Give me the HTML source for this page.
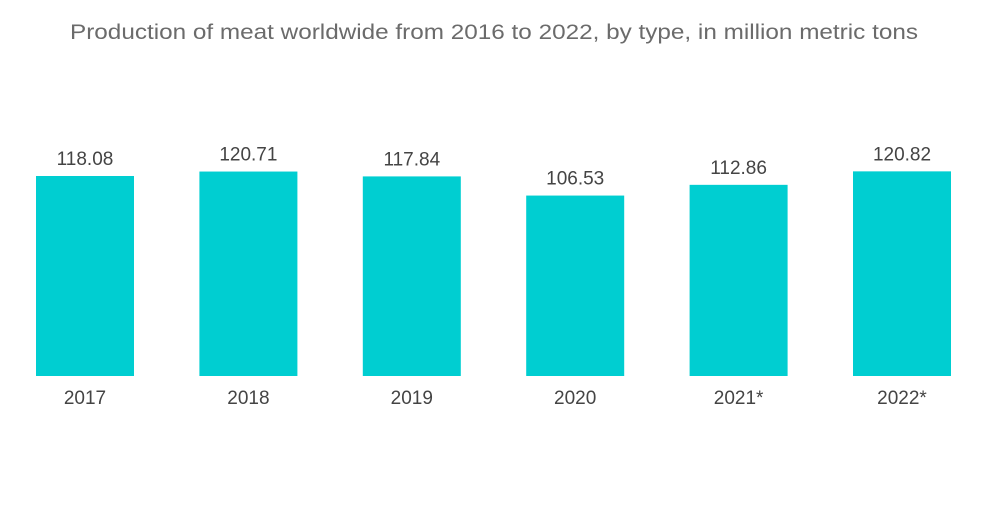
<!DOCTYPE html>
<html><head><meta charset="utf-8"><style>
body{margin:0;background:#fff;width:1000px;height:504px;overflow:hidden;font-family:"Liberation Sans",sans-serif}
</style></head><body>
<svg width="1000" height="504">
<text x="494" y="39" text-anchor="middle" font-size="21" textLength="848" lengthAdjust="spacingAndGlyphs" fill="#6b6b6b">Production of meat worldwide from 2016 to 2022, by type, in million metric tons</text>
<g id="bars"></g>
</svg>
<script>
const categories=["2017","2018","2019","2020","2021*","2022*"];
const values=[118.08,120.71,117.84,106.53,112.86,120.82];
const valueLabels=["118.08","120.71","117.84","106.53","112.86","120.82"];
const baseY=376, scale=200/118.08, x0=36, step=163.4, bw=98;
const yPx=v=>baseY-v*scale;
const xPx=i=>x0+i*step;
const g=document.getElementById('bars');
const ns="http://www.w3.org/2000/svg";
categories.forEach((c,i)=>{
  const r=document.createElementNS(ns,'rect');
  r.setAttribute('x',xPx(i));r.setAttribute('y',yPx(values[i]));
  r.setAttribute('width',bw);r.setAttribute('height',baseY-yPx(values[i]));
  r.setAttribute('fill','#00ced1');
  
  
  g.appendChild(r);
  const t=document.createElementNS(ns,'text');
  t.setAttribute('x',xPx(i)+bw/2);t.setAttribute('y',yPx(values[i])-11);
  t.setAttribute('text-anchor','middle');t.setAttribute('font-size','19');t.setAttribute('fill','#444');
  t.textContent=valueLabels[i];
  
  
  g.appendChild(t);
  const l=document.createElementNS(ns,'text');
  l.setAttribute('x',xPx(i)+bw/2);l.setAttribute('y',404);
  l.setAttribute('text-anchor','middle');l.setAttribute('font-size','19');l.setAttribute('fill','#444');
  l.textContent=c;
  
  
  g.appendChild(l);
});
</script>
</body></html>
